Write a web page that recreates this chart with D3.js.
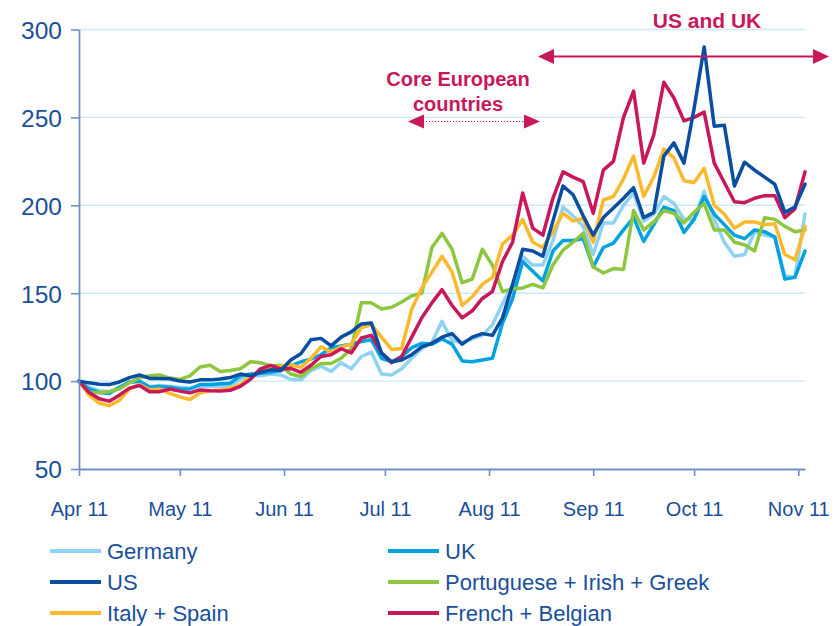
<!DOCTYPE html>
<html>
<head>
<meta charset="utf-8">
<script src="https://cdn.jsdelivr.net/npm/d3@7"></script>
<style>
  html, body { margin: 0; padding: 0; background: #ffffff; }
  svg { display: block; font-family: "Liberation Sans", Arial, sans-serif; }
</style>
</head>
<body>
<svg id="chart" width="840" height="626"></svg>
<script>
// ---------- DATA ----------
const dates = [
  "2011-04-01","2011-04-04","2011-04-07","2011-04-10","2011-04-13","2011-04-16","2011-04-19","2011-04-22","2011-04-25","2011-04-28",
  "2011-05-01","2011-05-04","2011-05-07","2011-05-10","2011-05-13","2011-05-16","2011-05-19","2011-05-22","2011-05-25","2011-05-28",
  "2011-05-31","2011-06-03","2011-06-06","2011-06-09","2011-06-12","2011-06-15","2011-06-18","2011-06-21","2011-06-24","2011-06-27",
  "2011-06-30","2011-07-03","2011-07-06","2011-07-09","2011-07-12","2011-07-15","2011-07-18","2011-07-21","2011-07-24","2011-07-27",
  "2011-07-30","2011-08-02","2011-08-05","2011-08-08","2011-08-11","2011-08-14","2011-08-17","2011-08-20","2011-08-23","2011-08-26",
  "2011-08-29","2011-09-01","2011-09-04","2011-09-07","2011-09-10","2011-09-13","2011-09-16","2011-09-19","2011-09-22","2011-09-25",
  "2011-09-28","2011-10-01","2011-10-04","2011-10-07","2011-10-10","2011-10-13","2011-10-16","2011-10-19","2011-10-22","2011-10-25",
  "2011-10-28","2011-10-31","2011-11-03"
];

const germany = [
  100,96.5,94.5,94,96,99.5,99,97,97.5,97,
  96.5,96,97,97,97,97,101,103,103,104,
  103.5,101,100.7,106,108.5,105.5,110.5,107,114,116.5,
  104,103.5,107,113,118.5,122,134,123,122,124,
  126,132,144,155,171,166,166,180,199,194,
  188,172,190,190,200,207,191,195,205,201,
  192,192,208,192,179,171,172,185,183,182,
  160,159,195
];
const uk = [
  100,95.5,93.5,93,96.5,99.5,100,96.5,97,96.5,
  95.5,95.5,98,98,98.5,98.8,103,104,104.5,105,
  106,108.7,111,112.5,115,119,120,121,122.5,123.5,
  113,111,114,119,121.5,121,124,121,111.5,111,
  112,113,133,147,168,162.5,157,174,180,180,
  181,165,176,178.5,186,193,179.5,189,199,197,
  184.5,192,205,195,189,183,181,186,185,182,
  158,159,174
];
const us = [
  100,99,98.2,98,99.5,102,103.5,101.5,101.5,101.3,
  100,99.5,100.7,100.7,101.2,102,104,103,105,106.4,
  106,112,115.5,123.5,124.3,120,125,128,132.5,133,
  116,111,112,115,119.5,121.5,125,127,121,125,
  127,126,136,155,175,174,171,191,211,206,
  194,183,193,198.5,204,210,193,196,228,235.5,
  224,255,290,245,245.5,211,224.5,220,216,212,
  196,199,212
];
const portIrishGreek = [
  100,93.5,93.5,94,95.5,99,102,103,103.5,101.7,
  101,103,108,109,105.5,106,107,111,110.5,108.7,
  109,104,102.6,107,110,110,113,118.5,144.5,144.5,
  141,142,145,148.5,150,176,184,175,156,158,
  175,166,151,152.5,153,155,153,166,174.5,179,
  184,165,161.5,164,163.5,197,186,190.5,197,195.5,
  190,196,201,186,186,179,177.5,174,193,192,
  188,185,186
];
const italySpain = [
  100,92,87.5,86,89,95.5,98,95,95.5,93,
  91,89.5,93.2,94.5,95,95.8,98,102.5,106.4,107.3,
  108.3,109.3,107.8,113,119.5,116.5,119.5,121,130.5,132,
  125,118,118.5,141,153,162,171,162,143,148,
  155,159,178,183,192,179,176,185,195.5,191,
  192.5,179,203,205,215,228,205,216,232,227,
  214,213,221,200,195,187,190.5,190.5,189,189.5,
  172,169,188
];
const frenchBelgian = [
  100,93.5,90,88.6,92,96,97.5,94,94,95.5,
  94.3,93.3,95,94.5,94.3,94.8,97,101,107,109,
  107,107.2,105,109,114,115,118.4,116,124.5,126,
  116,110.5,114,125,136,144.5,152,143,136,140,
  147,151,168,179,207,187,183,204,219,216,
  213.5,195.5,220,225,250,265,224,240,270,261,
  248,250,253,224,213,202,201.5,204,205.5,205.5,
  193,198,219
];

const seriesNames = ["Germany","UK","US","Portuguese + Irish + Greek","Italy + Spain","French + Belgian"];
const seriesValues = [germany, uk, us, portIrishGreek, italySpain, frenchBelgian];
const yTickValues = [50,100,150,200,250,300];
const xTickDates = ["2011-04-01","2011-05-01","2011-06-01","2011-07-01","2011-08-01","2011-09-01","2011-10-01","2011-11-01"];
const annotationTop = "US and UK";
const annotationMid = ["Core European","countries"];

// ---------- STYLE ----------
const colors = ["#8fd3f4","#00a2e1","#0a4ea2","#8dc63f","#fdb92c","#c9175c"];
const drawOrder = [0,1,3,4,5,2];
const textBlue = "#1a4f9c";
const axisBlue = "#7090c8";
const gridBlue = "#cbe9f7";
const accent = "#c9175c";

const parse = d3.timeParse("%Y-%m-%d");
const svg = d3.select("#chart");

const x = d3.scaleTime()
  .domain([parse("2011-04-01"), parse("2011-11-03")])
  .range([79, 805]);
const y = d3.scaleLinear().domain([50, 300]).range([469, 29.5]);

// gridlines
svg.append("g").selectAll("line")
  .data(yTickValues.filter(v => v > 50))
  .join("line")
  .attr("x1", 79).attr("x2", 805)
  .attr("y1", d => y(d)).attr("y2", d => y(d))
  .attr("stroke", gridBlue).attr("stroke-width", 1.4);

// lines
const line = d3.line()
  .x((d, i) => x(parse(dates[i])))
  .y(d => y(d))
  .curve(d3.curveLinear);

const linesG = svg.append("g");
drawOrder.forEach(k => {
  linesG.append("path")
    .datum(seriesValues[k])
    .attr("d", line)
    .attr("fill", "none")
    .attr("stroke", colors[k])
    .attr("stroke-width", 3.5)
    .attr("stroke-linejoin", "round")
    .attr("stroke-linecap", "round");
});

// y axis
const yAxis = svg.append("g")
  .attr("transform", "translate(79,0)")
  .call(d3.axisLeft(y).tickValues(yTickValues).tickSize(8).tickSizeOuter(0).tickPadding(9));
yAxis.select(".domain").attr("stroke", axisBlue).attr("stroke-width", 1.8);
yAxis.selectAll(".tick line").attr("stroke", axisBlue).attr("stroke-width", 1.6);
yAxis.selectAll(".tick text")
  .attr("fill", textBlue).attr("font-size", 24.5).attr("dy", "0.36em");

// x axis
const xAxis = svg.append("g")
  .attr("transform", "translate(0,469)")
  .call(d3.axisBottom(x).tickValues(xTickDates.map(parse)).tickSize(7).tickSizeOuter(0)
        .tickFormat(d3.timeFormat("%b %y")));
xAxis.select(".domain").attr("stroke", axisBlue).attr("stroke-width", 1.8);
xAxis.selectAll(".tick line").attr("stroke", axisBlue).attr("stroke-width", 1.6);
xAxis.selectAll(".tick text")
  .attr("fill", textBlue).attr("font-size", 20)
  .attr("y", 47).attr("dy", null);

// annotations
const ann = svg.append("g");
ann.append("text")
  .attr("x", 707).attr("y", 28)
  .attr("text-anchor", "middle")
  .attr("font-weight", "bold").attr("font-size", 21)
  .attr("fill", accent).text(annotationTop);
ann.append("line")
  .attr("x1", 548).attr("x2", 818).attr("y1", 56.5).attr("y2", 56.5)
  .attr("stroke", accent).attr("stroke-width", 2);
ann.append("path").attr("d", "M538,56.5 L554,49 L554,64 Z").attr("fill", accent);
ann.append("path").attr("d", "M829,56.5 L813,49 L813,64 Z").attr("fill", accent);

annotationMid.forEach((t, i) => {
  ann.append("text")
    .attr("x", 458).attr("y", 86 + i * 25)
    .attr("text-anchor", "middle")
    .attr("font-weight", "bold").attr("font-size", 20)
    .attr("fill", accent).text(t);
});
ann.append("line")
  .attr("x1", 420).attr("x2", 528).attr("y1", 121.5).attr("y2", 121.5)
  .attr("stroke", accent).attr("stroke-width", 1)
  .attr("stroke-dasharray", "1.2,1.8");
ann.append("path").attr("d", "M408,121.5 L424,114.5 L424,128.5 Z").attr("fill", accent);
ann.append("path").attr("d", "M540,121.5 L524,114.5 L524,128.5 Z").attr("fill", accent);

// legend
const legendPos = [[50,551],[388,551],[50,582],[388,582],[50,613],[388,613]];
const leg = svg.append("g");
seriesNames.forEach((name, k) => {
  const [lx, ly] = legendPos[k];
  leg.append("line")
    .attr("x1", lx).attr("x2", lx + 51).attr("y1", ly).attr("y2", ly)
    .attr("stroke", colors[k]).attr("stroke-width", 4);
  leg.append("text")
    .attr("x", lx + 57).attr("y", ly + 8)
    .attr("font-size", 22).attr("fill", textBlue)
    .text(name);
});
</script>
</body>
</html>
